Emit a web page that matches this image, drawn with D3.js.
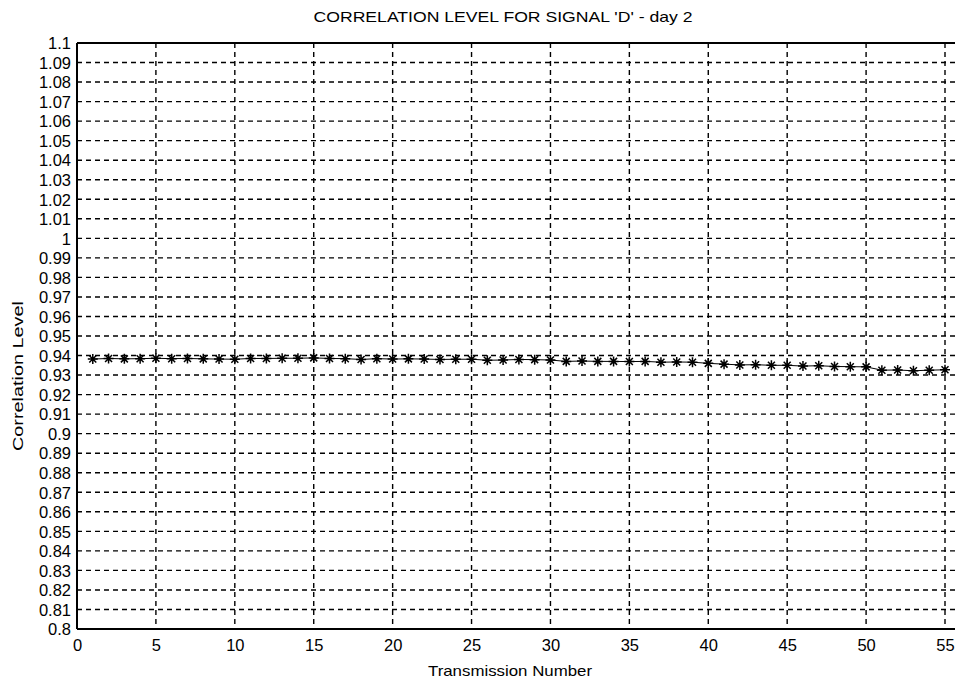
<!DOCTYPE html>
<html><head><meta charset="utf-8">
<script src="https://cdn.jsdelivr.net/npm/d3@7/dist/d3.min.js"></script>
<style>body{margin:0;background:#fff}text{font-family:"Liberation Sans",Arial,sans-serif;fill:#000}</style>
</head><body><svg id="c" width="955" height="682"></svg>
<script>
const transmissions = d3.range(1, 56);
const correlation = [0.9382,0.9385,0.9383,0.9384,0.9386,0.9384,0.9385,0.9383,0.9382,0.9381,
  0.9385,0.9385,0.9386,0.9386,0.9388,0.9385,0.9384,0.9380,0.9384,0.9382,
  0.9383,0.9382,0.9380,0.9381,0.9381,0.9376,0.9377,0.9380,0.9379,0.9377,
  0.9370,0.9372,0.9370,0.9370,0.9369,0.9370,0.9366,0.9367,0.9366,0.9360,
  0.9356,0.9352,0.9353,0.9350,0.9350,0.9346,0.9348,0.9344,0.9343,0.9342,
  0.9325,0.9326,0.9322,0.9325,0.9327];
const xTicks = [0,5,10,15,20,25,30,35,40,45,50,55];
const yTicks = d3.range(0,31).map(i => +(0.8 + i*0.01).toFixed(2));
const titleText = "CORRELATION LEVEL FOR SIGNAL 'D' - day 2";
const xLabel = "Transmission Number";
const yLabel = "Correlation Level";

const svg = d3.select("#c");
const L = 77, R = 945, T = 43, B = 629, RE = 955;
const x = d3.scaleLinear().domain([0,55]).range([L,R]);
const y = d3.scaleLinear().domain([0.8,1.1]).range([B,T]);

// grid
const g = svg.append("g");
g.selectAll("line.h").data(yTicks.filter(v => v>0.8 && v<1.1)).enter().append("line")
  .attr("x1",L).attr("x2",RE).attr("y1",d=>y(d)).attr("y2",d=>y(d))
  .attr("stroke","#000").attr("stroke-width",1.4).attr("stroke-dasharray","5,4");
g.selectAll("line.v").data(xTicks.filter(v => v>0)).enter().append("line")
  .attr("x1",d=>x(d)).attr("x2",d=>x(d)).attr("y1",T).attr("y2",B)
  .attr("stroke","#000").attr("stroke-width",1.4).attr("stroke-dasharray","5,4");

// axes
const yAxis = d3.axisLeft(y).tickValues(yTicks).tickSize(0).tickPadding(6).tickFormat(d => String(d));
const xAxis = d3.axisBottom(x).tickValues(xTicks).tickSize(0).tickPadding(10).tickFormat(d3.format("d"));
const ya = svg.append("g").attr("transform",`translate(${L},0)`).call(yAxis);
const xa = svg.append("g").attr("transform",`translate(0,${B})`).call(xAxis);
[ya,xa].forEach(a => { a.select(".domain").remove(); a.selectAll("text").attr("font-size",16.5).attr("font-family","Liberation Sans, Arial, sans-serif").attr("fill","#000"); });
ya.selectAll("text").attr("dy","0.35em");
// box
svg.append("line").attr("x1",L).attr("x2",L).attr("y1",T).attr("y2",B).attr("stroke","#000").attr("stroke-width",2);
svg.append("line").attr("x1",L).attr("x2",RE).attr("y1",B).attr("y2",B).attr("stroke","#000").attr("stroke-width",2);
svg.append("line").attr("x1",L).attr("x2",RE).attr("y1",T).attr("y2",T).attr("stroke","#000").attr("stroke-width",2);

// data
const pts = transmissions.map((t,i) => [t, correlation[i]]);
svg.append("path").datum(pts)
  .attr("d", d3.line().x(d=>x(d[0])).y(d=>y(d[1])))
  .attr("fill","none").attr("stroke","#000").attr("stroke-width",1);
const s = 5, sd = 3.5;
svg.append("g").selectAll("path").data(pts).enter().append("path")
  .attr("transform", d => `translate(${x(d[0])},${y(d[1])})`)
  .attr("d", `M${-s},0L${s},0M0,${-s}L0,${s}M${-sd},${-sd}L${sd},${sd}M${-sd},${sd}L${sd},${-sd}`)
  .attr("stroke","#000").attr("stroke-width",1.5).attr("fill","none");

// labels
svg.append("text").attr("x",503).attr("y",22).attr("text-anchor","middle").attr("font-size",15)
  .attr("textLength",379).attr("lengthAdjust","spacingAndGlyphs").text(titleText);
svg.append("text").attr("x",510).attr("y",676).attr("text-anchor","middle").attr("font-size",15)
  .attr("textLength",164).attr("lengthAdjust","spacingAndGlyphs").text(xLabel);
svg.append("text").attr("transform","translate(23,376) rotate(-90)").attr("text-anchor","middle").attr("font-size",15)
  .attr("textLength",150).attr("lengthAdjust","spacingAndGlyphs").text(yLabel);
</script></body></html>
